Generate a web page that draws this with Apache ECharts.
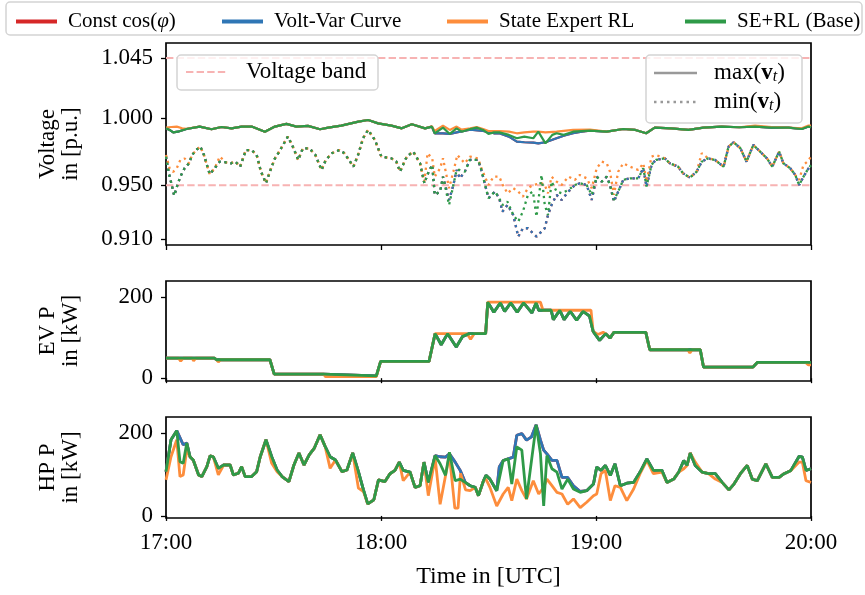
<!DOCTYPE html>
<html><head><meta charset="utf-8">
<script src="https://cdn.jsdelivr.net/npm/echarts@6/dist/echarts.min.js"></script>
<style>html,body{margin:0;padding:0;background:#fff}#c{width:865px;height:595px}</style>
</head><body><div id="c"></div><script>
const FONT = '"Liberation Serif", "Times New Roman", serif';
const seriesNames = ['Const cos(φ)', 'Volt-Var Curve', 'State Expert RL', 'SE+RL (Base)'];
const seriesColors = ['#d62728', '#2f76b5', '#fd8d3c', '#2e9a48'];
const xTickLabels = ['17:00', '18:00', '19:00', '20:00'];
const timeExtent = [0, 180];
const voltageTicks = [0.910, 0.950, 1.000, 1.045];
const voltageBand = [0.950, 1.045];
const powerTicks = [0, 200];

// [minutes after 17:00, value]
const vMaxBase = [[0,0.9925],[1,0.9913],[2,0.9895],[3.3,0.9900],[5.7,0.9920],[9.4,0.9938],[12.7,0.9918],[15.5,0.9935],[18.3,0.9925],[21.1,0.9938],[23.9,0.9938],[27.6,0.9900],[30.4,0.9938],[33.6,0.9958],[36.4,0.9938],[39.6,0.9943],[43,0.9918],[45.3,0.9930],[48.9,0.9945],[53.7,0.9975],[56.4,0.9987],[59.2,0.9962],[62.9,0.9945],[65.8,0.9925],[68.6,0.9955],[72.3,0.9925],[74.2,0.9938],[75,0.9888],[77.3,0.9930],[79.2,0.9883],[81.1,0.9925],[82.5,0.9900],[84.9,0.9920],[86.7,0.9930],[88.5,0.9913],[90,0.9883],[91.5,0.9895],[93,0.9895],[95.7,0.9876],[97.9,0.9851],[100,0.9863],[102.5,0.9851],[103.9,0.9900],[105.9,0.9813],[107.8,0.9876],[109,0.9888],[111,0.9876],[113.6,0.9900],[118.3,0.9908],[123,0.9900],[127.6,0.9920],[131,0.9913],[134,0.9888],[136.4,0.9930],[141,0.9925],[145.8,0.9913],[150,0.9930],[155,0.9938],[160,0.9933],[164.4,0.9938],[169,0.9930],[173.7,0.9930],[177.4,0.9920],[179.3,0.9938],[180,0.9933]];
const vMaxVoltVarPatch = [[[75,0.9888],[77.3,0.9888],[79.2,0.9883],[81.1,0.9895],[84.9,0.9915],[88.5,0.9905],[91.5,0.9888],[93,0.9888],[95.7,0.9863],[97.9,0.9826],[100,0.9821],[102.5,0.9818],[103.9,0.9813],[105.9,0.9821],[109,0.9851],[111,0.9870],[113.6,0.9888],[116,0.9900]]];
const vMaxStateExpertPatch = [[[0,0.9930],[1.5,0.9935],[3,0.9938],[4.5,0.9925],[5.7,0.9922]],[[74.2,0.9940],[75,0.9905],[77.3,0.9945],[79.2,0.9913],[81.1,0.9938],[82.5,0.9915],[84.9,0.9925],[86.7,0.9935],[88.5,0.9920],[90,0.9905],[93,0.9905],[95.7,0.9900],[97.9,0.9888],[100,0.9895],[102.5,0.9900],[103.9,0.9900],[105.9,0.9895],[109,0.9900],[113.6,0.9913],[118.3,0.9915]],[[164.4,0.9945],[169,0.9935]],[[177.4,0.9925],[179.3,0.9945],[180,0.9945]]];

const vMinBase = [[0,0.9714],[0.8,0.9589],[1.6,0.9502],[2.3,0.9423],[3.2,0.9502],[4,0.9564],[5.2,0.9627],[6.4,0.9664],[7.3,0.9726],[8.4,0.9763],[9.6,0.9788],[10.6,0.9726],[12.2,0.9582],[13.6,0.9627],[15,0.9676],[16.7,0.9671],[18.1,0.9664],[19.4,0.9676],[20.7,0.9639],[22.3,0.9763],[23.9,0.9763],[25.3,0.9726],[26.5,0.9602],[27.9,0.9515],[29,0.9602],[30.4,0.9701],[31.6,0.9751],[34,0.9863],[35.2,0.9801],[36.9,0.9689],[38.2,0.9776],[40,0.9776],[41.7,0.9726],[43.4,0.9614],[44.6,0.9689],[46.3,0.9739],[48.4,0.9763],[49.8,0.9739],[52.3,0.9639],[53.6,0.9726],[55,0.9851],[56.4,0.9913],[58.3,0.9838],[60.1,0.9714],[62.9,0.9701],[64.3,0.9676],[65.3,0.9602],[67.2,0.9714],[69,0.9751],[70.9,0.9664],[72.1,0.9515],[73.3,0.9602],[74.3,0.9652],[75,0.9428],[76.5,0.9453],[77.3,0.9564],[79,0.9353],[80.2,0.9502],[81.1,0.9614],[82,0.9614],[83.4,0.9602],[84.8,0.9689],[87.1,0.9689],[88,0.9614],[90,0.9403],[91.8,0.9453],[93,0.9403],[93.9,0.9353],[95.3,0.9378],[96.9,0.9278],[98.3,0.9229],[99.6,0.9303],[101,0.9428],[102.4,0.9453],[103.4,0.9266],[104.8,0.9577],[105.7,0.9353],[106.6,0.9278],[107.6,0.9527],[109,0.9453],[110.4,0.9440],[112.3,0.9465],[114.1,0.9502],[115.5,0.9515],[117.4,0.9502],[118.8,0.9428],[120.2,0.9564],[121.6,0.9527],[123,0.9564],[123.9,0.9502],[125,0.9390],[126.2,0.9453],[127.6,0.9540],[129.5,0.9552],[131.8,0.9552],[133.2,0.9627],[134.1,0.9490],[135.5,0.9652],[136.7,0.9689],[139.2,0.9701],[140.6,0.9664],[142.9,0.9639],[144.3,0.9589],[146.2,0.9557],[148.1,0.9602],[149.5,0.9676],[151.3,0.9701],[153.2,0.9689],[155.6,0.9639],[157,0.9788],[158.4,0.9821],[160.3,0.9776],[162,0.9676],[163.9,0.9801],[165.8,0.9751],[167.7,0.9701],[169.2,0.9639],[171.1,0.9751],[172.3,0.9664],[174.2,0.9627],[175.6,0.9577],[176.7,0.9502],[177.9,0.9564],[179,0.9614],[180,0.9650]];
const vMinVoltVarPatch = [[[77.3,0.9564],[79,0.9390],[80.2,0.9502],[81.1,0.9614],[82,0.9552],[83.4,0.9602]],[[93,0.9403],[93.9,0.9303],[95.3,0.9353],[96.9,0.9278],[98.3,0.9117],[99.6,0.9179],[101,0.9179],[102.4,0.9142],[103.4,0.9117],[104.8,0.9154],[105.7,0.9179],[106.6,0.9278],[107.6,0.9353],[109,0.9428],[110.4,0.9390],[112.3,0.9453]],[[118.8,0.9390]],[[125,0.9378]]];
const vMinStateExpertPatch = [[[0,0.9726],[1,0.9627],[2,0.9600],[3,0.9627],[4,0.9689],[5.2,0.9700],[6.4,0.9664]],[[15,0.9714]],[[72.1,0.9527],[73,0.9739],[74.3,0.9701],[75,0.9564],[76.5,0.9627],[77.3,0.9701],[79,0.9478],[80.2,0.9602],[81.3,0.9726],[83.4,0.9664],[84.8,0.9714],[87.1,0.9701],[88,0.9627],[90,0.9502],[91.4,0.9564],[93,0.9564],[94,0.9502],[95.3,0.9440],[96.9,0.9478],[98.3,0.9453],[99.6,0.9415],[101,0.9478],[102.4,0.9502],[104.8,0.9515],[105.7,0.9502],[106.6,0.9440],[107.6,0.9564],[109,0.9527],[110.4,0.9502],[112.3,0.9564],[114.1,0.9540],[115.5,0.9577],[117.4,0.9552],[118.8,0.9478],[120.2,0.9627],[121.6,0.9676],[123,0.9664],[123.9,0.9602],[125,0.9428],[126.2,0.9602],[127.6,0.9664],[129.5,0.9639],[131.8,0.9614],[133.2,0.9664],[134.1,0.9527],[135.5,0.9714],[136.7,0.9726]],[[149.5,0.9739]],[[176.7,0.9540],[177.9,0.9652],[179,0.9676],[180,0.9714]]];

const evBase = [[0,49.6],[13.5,49.6],[14.1,45.5],[29,45.5],[30.2,9.9],[44,9.9],[44.5,5.8],[58.7,5.8],[59.9,41.3],[73.4,41.3],[75.1,110],[76.8,82.6],[78.6,110],[81,76.9],[82.8,103.3],[84.6,110],[89.2,110],[89.8,187.6],[91.5,162.8],[93.3,186],[94.5,165],[96.2,186],[98,163],[99.8,186],[102.1,161],[103.3,186],[104,167.8],[107.5,167.8],[108.1,144.6],[109.9,167.8],[111.1,144.6],[112.8,165.3],[114.6,143],[116.4,165],[118.2,153],[119.2,115.7],[121,93.4],[122.7,110],[123.9,99],[125,113.2],[133.9,113.2],[135,70.2],[149.1,70.2],[150,27.3],[163.8,27.3],[165,38.8],[180,38.8]];
const evStateExpertPatch = [[[3.5,49.6],[4.1,42],[4.8,49.6],[7.3,49.6],[7.7,43],[8.3,49.6]],[[14.1,45.5],[14.6,40],[15.2,45.5]],[[44.5,4],[58.7,4]],[[75.1,110],[84,110],[85,96],[86,110],[89.2,110]],[[89.8,187.6],[104.5,187.6],[105.2,167.8],[118.6,167.8]],[[119.2,115.7],[120.5,108],[122,113.2]],[[145.6,70.2],[146.2,62],[146.8,70.2]],[[178.5,38.8],[179.2,33],[180,33]]];

const hpBase = [[0,107],[1.4,184],[3,206],[3.9,131],[4.8,127],[5.8,176],[6.7,143],[7.6,135],[9.1,99],[10,95],[11.4,119],[12.3,145],[13.2,143],[14.6,115],[16.1,123],[17.9,123],[18.8,99],[20.2,103],[21.1,119],[22.1,95],[23.9,95],[25.3,107],[26.3,143],[27.9,184],[29.5,143],[31,111],[32.4,95],[34.3,83],[35.7,123],[37.1,152],[38.5,123],[40,148],[41.4,164],[43,196],[44.4,168],[45.8,143],[47.3,135],[49.1,107],[50.5,111],[52.1,152],[53.7,107],[55.1,63],[56.3,29],[58,39],[59.3,87],[61.1,83],[62.5,102],[63.9,110],[65.1,130],[66.2,110],[68.1,106],[69.5,69],[70.9,73],[72,130],[73.2,81],[75.1,146],[76.5,126],[78,98],[79.1,154],[80.7,85],[82.1,89],[83.5,81],[84.9,73],[86.3,69],[87.2,49],[88.6,85],[89.3,98],[90.4,89],[92.3,61],[94.1,134],[95.5,138],[96.5,77],[97.9,167],[99.3,159],[100.6,41],[103.3,220],[104.5,150],[105.4,24],[106.3,146],[107.7,114],[109.1,106],[110.5,65],[112.1,89],[113.7,65],[115.6,57],[117.4,61],[119.3,77],[120.2,118],[121.4,110],[122.6,122],[124,98],[125.3,126],[126.8,73],[128.6,79],[130.5,81],[132.3,106],[134.2,138],[136,110],[138.4,110],[139.8,81],[141.7,89],[143.1,106],[144.5,134],[145.4,122],[146.3,152],[147.7,122],[149.6,106],[151.4,102],[153.3,102],[155.2,81],[157.1,63],[158.5,77],[160.3,102],[162.2,122],[163.6,89],[165,85],[167.4,126],[169.2,93],[171.1,93],[172.5,102],[174.4,110],[176.7,144],[177.6,142],[178.6,110],[180,114]];
const hpVoltVarPatch = [[[3,206],[4.8,172],[5.8,176]],[[75.1,146],[76.5,143],[78,142],[79.1,150],[80.7,130],[82.1,110],[83.5,81]],[[93,118],[94.1,134],[95.5,138],[96.9,142],[97.9,195],[99.3,199],[100.6,183],[102,191],[103.3,220],[104.5,183],[105.4,159],[106.3,150],[107.7,134],[109.1,134],[110.5,93],[112.1,93],[113.7,73],[115.6,59],[117.4,61]]];
const hpStateExpertPatch = [[[0,87],[1.4,143],[3,184],[3.9,95],[4.8,99],[5.8,160]],[[14.6,99]],[[29.5,127],[31,107]],[[45.8,115]],[[53.7,67],[55.1,59]],[[66.2,85]],[[73.2,49],[75.1,140],[76.5,28],[79.1,147],[80.6,19],[81.5,19],[82.2,103],[83.6,63],[84.9,61],[86.3,69],[87.2,49],[88.6,85],[89.3,89],[90.4,69],[92.3,24],[94.1,53],[95.5,69],[96.5,37],[97.9,89],[99.3,61],[100.6,41],[102.5,85],[104,53],[105.4,69],[106.3,89],[107.7,73],[109.1,57],[110.5,53],[112.1,28],[113.7,41],[115.6,20],[117.4,33],[119.3,49],[120.2,53],[121.4,102],[122.6,110],[124,37],[125.3,73],[126.8,69],[128.6,37],[130.5,65],[132.3,102],[134.2,134],[136,102],[138.4,106],[139.8,81]],[[144.5,114]],[[147.7,130]],[[153.3,89]],[[176.7,130],[177.6,130],[178.6,85],[180,81]]];

function overlay(base, segments) {
  let out = base.slice();
  segments.forEach(seg => {
    const a = seg[0][0], b = seg[seg.length - 1][0];
    out = out.filter(p => p[0] < a || p[0] > b).concat(seg);
  });
  return out.sort((p, q) => p[0] - q[0]);
}

const vMaxVoltVar = overlay(vMaxBase, vMaxVoltVarPatch);
const vMaxData = [vMaxVoltVar, vMaxVoltVar, overlay(vMaxBase, vMaxStateExpertPatch), vMaxBase];
const vMinVoltVar = overlay(vMinBase, vMinVoltVarPatch);
const vMinData = [vMinVoltVar, vMinVoltVar, overlay(vMinBase, vMinStateExpertPatch), vMinBase];
const evData = [evBase, evBase, overlay(evBase, evStateExpertPatch), evBase];
const hpVoltVar = overlay(hpBase, hpVoltVarPatch);
const hpData = [hpVoltVar, hpVoltVar, overlay(hpBase, hpStateExpertPatch), hpBase];

const chart = echarts.init(document.getElementById('c'), null, {renderer: 'canvas'});
const grids = [
  {left: 166, right: 54, top: 43, height: 202},
  {left: 166, right: 54, top: 281, height: 100},
  {left: 166, right: 54, top: 417, height: 101}
].map(g => Object.assign({show: true, borderColor: '#000', borderWidth: 1.7, backgroundColor: 'transparent'}, g));

const tickStyle = {show: true, length: 5, inside: false, lineStyle: {color: '#000', width: 1.3}};
const tickTxt = {fontFamily: FONT, fontSize: 23, color: '#000'};
const nameTxt = {fontFamily: FONT, fontSize: 23, color: '#000'};

const xAxes = [0, 1, 2].map(i => ({
  type: 'value', gridIndex: i, min: timeExtent[0], max: timeExtent[1], interval: 60,
  axisLine: {show: false}, splitLine: {show: false},
  axisTick: tickStyle,
  axisLabel: Object.assign({show: i === 2, margin: 13, formatter: v => xTickLabels[Math.round(v / 60)]}, tickTxt),
  name: i === 2 ? 'Time in [UTC]' : '', nameLocation: 'middle', nameGap: 47,
  nameTextStyle: Object.assign({}, nameTxt, {fontSize: 24})
}));

function yAxis(i, min, max, ticks, fmt, name) {
  return {
    type: 'value', gridIndex: i, min: min, max: max,
    axisLine: {show: false}, splitLine: {show: false},
    axisTick: Object.assign({customValues: ticks}, tickStyle),
    axisLabel: Object.assign({customValues: ticks, margin: 13, formatter: fmt}, tickTxt),
    name: name, nameLocation: 'middle', nameRotate: 90, nameGap: 84,
    nameTextStyle: Object.assign({lineHeight: 23, align: 'center'}, nameTxt)
  };
}
const yAxes = [
  yAxis(0, 0.9054, 1.0562, voltageTicks, v => v.toFixed(3), 'Voltage\nin [p.u.]'),
  yAxis(1, -7, 240, powerTicks, v => String(v), 'EV P\nin [kW]'),
  yAxis(2, -5, 239, powerTicks, v => String(v), 'HP P\nin [kW]')
];

const series = [];
voltageBand.forEach(v => {
  series.push({type: 'line', xAxisIndex: 0, yAxisIndex: 0, silent: true, z: 1, symbol: 'none',
    data: timeExtent.map(t => [t, v]),
    lineStyle: {color: '#f7b3b3', width: 2, type: [7.4, 3.2]}});
});
seriesNames.forEach((name, k) => {
  series.push({name, type: 'line', xAxisIndex: 0, yAxisIndex: 0, data: vMaxData[k], showSymbol: false, symbol: 'none',
    lineStyle: {color: seriesColors[k], width: 2.2}, itemStyle: {color: seriesColors[k]}, z: 2});
  series.push({name, type: 'line', xAxisIndex: 0, yAxisIndex: 0, data: vMinData[k], showSymbol: false, symbol: 'none',
    lineStyle: {color: seriesColors[k], width: 2.3, type: [2.3, 3.8]}, itemStyle: {color: seriesColors[k]}, z: 2});
});
seriesNames.forEach((name, k) => {
  series.push({name, type: 'line', xAxisIndex: 1, yAxisIndex: 1, data: evData[k], showSymbol: false, symbol: 'none',
    lineStyle: {color: seriesColors[k], width: 2.8}, itemStyle: {color: seriesColors[k]}, z: 2});
});
seriesNames.forEach((name, k) => {
  series.push({name, type: 'line', xAxisIndex: 2, yAxisIndex: 2, data: hpData[k], showSymbol: false, symbol: 'none',
    lineStyle: {color: seriesColors[k], width: 2.8}, itemStyle: {color: seriesColors[k]}, z: 2});
});

const legendLeft = [11, 217, 442, 680];
const legends = seriesNames.map((name, k) => ({
  data: [name], left: legendLeft[k], top: 6, icon: 'rect', itemWidth: 41, itemHeight: 4,
  selectedMode: false,
  formatter: n => n === 'Const cos(φ)' ? 'Const cos({i|φ})' : n,
  textStyle: {padding: [0, 0, 0, 6], fontSize: 21, fontFamily: FONT, color: '#000',
    rich: {i: {fontFamily: FONT, fontSize: 21, fontStyle: 'italic', color: '#000'}}}
}));

const gray = '#999999';
const subRich = {b: {fontWeight: 'bold', fontFamily: FONT, fontSize: 23}, s: {fontStyle: 'italic', fontFamily: FONT, fontSize: 16, verticalAlign: 'bottom'}};
const graphic = [
  {type: 'rect', z: 0, shape: {x: 6, y: 2, width: 856, height: 33, r: 4}, style: {fill: '#fff', stroke: '#d4d4d4', lineWidth: 1.5}},
  {type: 'rect', z: 100, shape: {x: 177, y: 55, width: 201, height: 35, r: 4}, style: {fill: 'rgba(255,255,255,0.8)', stroke: '#d4d4d4', lineWidth: 1.5}},
  {type: 'line', z: 101, shape: {x1: 186, y1: 72, x2: 228, y2: 72}, style: {stroke: '#f7b3b3', lineWidth: 2, lineDash: [7.4, 3.2]}},
  {type: 'text', z: 101, x: 246, y: 72, style: {text: 'Voltage band', font: '23px ' + FONT, fill: '#000', verticalAlign: 'middle'}},
  {type: 'rect', z: 100, shape: {x: 646, y: 55, width: 156, height: 68, r: 4}, style: {fill: 'rgba(255,255,255,0.8)', stroke: '#d4d4d4', lineWidth: 1.5}},
  {type: 'line', z: 101, shape: {x1: 654, y1: 73, x2: 697, y2: 73}, style: {stroke: gray, lineWidth: 2.5}},
  {type: 'line', z: 101, shape: {x1: 654, y1: 102, x2: 697, y2: 102}, style: {stroke: gray, lineWidth: 2.5, lineDash: [2.5, 4]}},
  {type: 'text', z: 101, x: 714, y: 73, style: {text: 'max({b|v}{s|t})', font: '23px ' + FONT, fill: '#000', verticalAlign: 'middle', rich: subRich}},
  {type: 'text', z: 101, x: 714, y: 102, style: {text: 'min({b|v}{s|t})', font: '23px ' + FONT, fill: '#000', verticalAlign: 'middle', rich: subRich}}
];

chart.setOption({
  animation: false,
  backgroundColor: '#fff',
  grid: grids, xAxis: xAxes, yAxis: yAxes,
  legend: legends,
  graphic: graphic,
  series: series
});
</script></body></html>
